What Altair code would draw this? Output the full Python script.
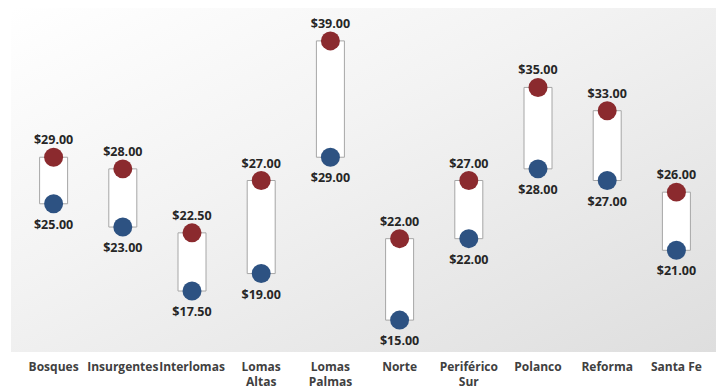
import altair as alt
import pandas as pd

zones = ["Bosques", "Insurgentes", "Interlomas", "Lomas Altas", "Lomas Palmas",
         "Norte", "Periférico Sur", "Polanco", "Reforma", "Santa Fe"]
low = [25.0, 23.0, 17.5, 19.0, 29.0, 15.0, 22.0, 28.0, 27.0, 21.0]
high = [29.0, 28.0, 22.5, 27.0, 39.0, 22.0, 27.0, 35.0, 33.0, 26.0]
grid_values = list(range(14, 41, 2))

df = pd.DataFrame({"zona": zones, "low": low, "high": high})

W, H = 692, 349
FONT = "Open Sans"

xenc = alt.X("zona:N", sort=zones, title=None,
             scale=alt.Scale(paddingInner=0, paddingOuter=0),
             axis=alt.Axis(labelAngle=0, labelFont=FONT, labelFontWeight="bold",
                           labelFontSize=12, labelColor="#404040", domain=False,
                           ticks=False, labelPadding=6, labelLineHeight=15,
                           labelBaseline="top",
                           labelExpr="datum.label == 'Santa Fe' ? datum.label : split(datum.label, ' ')"))
yscale = alt.Scale(domain=[12, 42], nice=False, zero=False)

bg = alt.Chart(df).mark_rect(
    fill=alt.Gradient(gradient="linear", x1=0, y1=0, x2=1, y2=1,
                      stops=[alt.GradientStop(color="#FFFFFF", offset=0),
                             alt.GradientStop(color="#F3F3F3", offset=0.4),
                             alt.GradientStop(color="#DEDEDE", offset=1)])
).encode(x=alt.value(-8), x2=alt.value(697), y=alt.value(2), y2=alt.value(346))

base = alt.Chart(df)

bars = base.mark_bar(size=28, fill="white", stroke="#A6A6A6", strokeWidth=1).encode(
    x=xenc,
    y=alt.Y("low:Q", scale=yscale, title=None,
            axis=alt.Axis(values=grid_values, labels=False, ticks=False, domain=False,
                          grid=True, gridColor="#C9C9C9", gridWidth=1)),
    y2="high:Q",
)

hi_pts = base.mark_circle(size=360, opacity=1, color="#8B2A2E").encode(
    x=alt.X("zona:N", sort=zones), y=alt.Y("high:Q", scale=yscale))
lo_pts = base.mark_circle(size=360, opacity=1, color="#2D5282").encode(
    x=alt.X("zona:N", sort=zones), y=alt.Y("low:Q", scale=yscale))

hi_txt = base.mark_text(dy=-17, font=FONT, fontWeight="bold", fontSize=12.5,
                        color="#262626").encode(
    x=alt.X("zona:N", sort=zones), y=alt.Y("high:Q", scale=yscale),
    text=alt.Text("high:Q", format="$.2f"))
lo_txt = base.mark_text(dy=21, font=FONT, fontWeight="bold", fontSize=12.5,
                        color="#262626").encode(
    x=alt.X("zona:N", sort=zones), y=alt.Y("low:Q", scale=yscale),
    text=alt.Text("low:Q", format="$.2f"))

chart = alt.layer(bg, bars, hi_pts, lo_pts, hi_txt, lo_txt).properties(
    width=W, height=H,
    autosize=alt.AutoSizeParams(type="none"),
    padding={"left": 19, "top": 6, "right": 14, "bottom": 32},
    background="white",
).configure_view(stroke=None)

chart.save("out.html", embed_options={"renderer": "svg", "actions": False})
